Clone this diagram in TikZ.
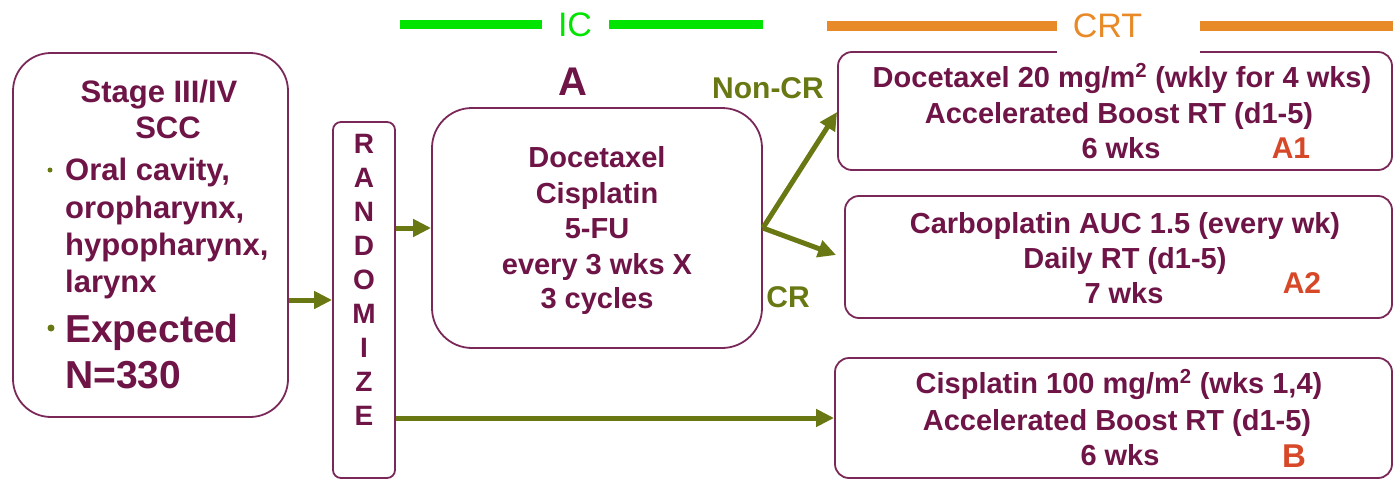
\documentclass[tikz,border=0pt]{standalone}
\usepackage{fontspec}
\setmainfont{Liberation Sans}
\usetikzlibrary{arrows.meta}
\definecolor{maroon}{RGB}{110,20,70}
\definecolor{boxline}{RGB}{122,40,88}
\definecolor{olive}{RGB}{106,120,20}
\definecolor{icgreen}{RGB}{0,228,0}
\definecolor{crtorange}{RGB}{232,138,40}
\definecolor{armred}{RGB}{214,72,40}
\begin{document}
\begin{tikzpicture}[x=1pt,y=-1pt,
  txt/.style={font=\bfseries\fontsize{29}{35}\selectfont, text=maroon, inner sep=0pt, anchor=base},
  ltxt/.style={font=\bfseries\fontsize{31}{37}\selectfont, text=maroon, inner sep=0pt, anchor=base west},
  bigtxt/.style={font=\bfseries\fontsize{39}{45}\selectfont, text=maroon, inner sep=0pt, anchor=base west},
  armlbl/.style={font=\bfseries\fontsize{30}{35}\selectfont, text=armred, inner sep=0pt, anchor=base},
  resp/.style={font=\bfseries\fontsize{30}{35}\selectfont, text=olive, inner sep=0pt},
  letter/.style={font=\bfseries\fontsize{28}{32}\selectfont, text=maroon, inner sep=0pt},
  box/.style={draw=boxline, line width=1.8pt, fill=white, inner sep=0pt},
  arr/.style={draw=olive, line width=5pt, -{Triangle[length=18pt,width=17pt]}},
  phase/.style={line width=9pt},
  bullet/.style={circle, fill=olive, inner sep=0pt}
]
\useasboundingbox (0,0) rectangle (1393,479);

% phase headers
\node[font=\fontsize{34}{40}\selectfont, text=icgreen, inner sep=0pt] (ic) at (575,25) {IC};
\draw[phase, icgreen] (400,24.5) -- (542,24.5);
\draw[phase, icgreen] (609,24.5) -- (763,24.5);
\draw[phase, crtorange, line width=10pt] (827,26) -- (1057,26);
\draw[phase, crtorange, line width=10pt] (1200,26) -- (1393,26);

% boxes
\node[box, rounded corners=38pt, minimum width=275pt, minimum height=364pt] (left) at (150.5,235) {};
\node[box, rounded corners=8pt, minimum width=62pt, minimum height=356pt] (rand) at (364,300) {};
\node[box, rounded corners=40pt, minimum width=330pt, minimum height=240pt] (boxA) at (597,228) {};
\node[box, rounded corners=14pt, minimum width=554pt, minimum height=118pt] (A1) at (1115,111) {};
\node[box, rounded corners=14pt, minimum width=547pt, minimum height=122pt] (A2) at (1118.5,257) {};
\node[box, rounded corners=14pt, minimum width=557pt, minimum height=120pt] (B) at (1113.5,418) {};

% CRT label with white mask over box top
\node[fill=white, inner sep=0pt, minimum width=143pt, minimum height=42pt] (crtmask) at (1128.5,35) {};
\node[font=\fontsize{34}{40}\selectfont, text=crtorange, inner sep=0pt] (crt) at (1107.5,26) {CRT};

% left box text
\node[txt, font=\bfseries\fontsize{31}{37}\selectfont] (l1) at (159,102) {Stage III/IV};
\node[txt, font=\bfseries\fontsize{31}{37}\selectfont] (l2) at (168,138) {SCC};
\node[bullet, minimum size=5pt] (b1) at (50,170) {};
\node[ltxt] (l3) at (65,180) {Oral cavity,};
\node[ltxt] (l4) at (65,218) {oropharynx,};
\node[ltxt] (l5) at (65,255) {hypopharynx,};
\node[ltxt] (l6) at (65,292) {larynx};
\node[bullet, minimum size=7pt] (b2) at (51,328) {};
\node[bigtxt] (l7) at (65,342) {Expected};
\node[bigtxt] (l8) at (65,388) {N=330};

% RANDOMIZE
\foreach \ch [count=\i from 0] in {R,A,N,D,O,M,I,Z,E}{
  \node[letter] (r\i) at (364,144+\i*34) {\ch};
}

% box A
\node[font=\bfseries\fontsize{40}{46}\selectfont, text=maroon, inner sep=0pt] (lblA) at (573,82) {A};
\node[txt] (a1) at (597,167) {Docetaxel};
\node[txt] (a2) at (597,203) {Cisplatin};
\node[txt] (a3) at (597,238) {5-FU};
\node[txt] (a4) at (597,274) {every 3 wks X};
\node[txt] (a5) at (597,308) {3 cycles};

% responses
\node[resp] (noncr) at (768,88.5) {Non-CR};
\node[resp] (cr) at (788,297) {CR};

% A1
\node[txt] (p1) at (1122,87) {Docetaxel 20 mg/m\textsuperscript{2} (wkly for 4 wks)};
\node[txt] (p2) at (1119,123) {Accelerated Boost RT (d1-5)};
\node[txt] (p3) at (1121,158) {6 wks};
\node[armlbl] (la1) at (1291,158) {A1};

% A2
\node[txt] (q1) at (1125,233) {Carboplatin AUC 1.5 (every wk)};
\node[txt] (q2) at (1125,268) {Daily RT (d1-5)};
\node[txt] (q3) at (1124,303) {7 wks};
\node[armlbl] (la2) at (1302,293) {A2};

% B
\node[txt] (s1) at (1119,393) {Cisplatin 100 mg/m\textsuperscript{2} (wks 1,4)};
\node[txt] (s2) at (1117,430) {Accelerated Boost RT (d1-5)};
\node[txt] (s3) at (1120,465) {6 wks};
\node[armlbl, font=\bfseries\fontsize{33}{38}\selectfont] (lb) at (1294,467) {B};

% connectors
\draw[arr] (left.east |- rand.west) -- (rand.west);
\draw[arr] (rand.east |- boxA.west) -- (boxA.west);
\draw[arr] (boxA.east) -- ([yshift=-1pt]A1.west);
\draw[arr] (boxA.east) -- ([xshift=-8pt,yshift=2pt]A2.west);
\draw[arr] (rand.east |- B.west) -- (B.west);
\end{tikzpicture}
\end{document}
